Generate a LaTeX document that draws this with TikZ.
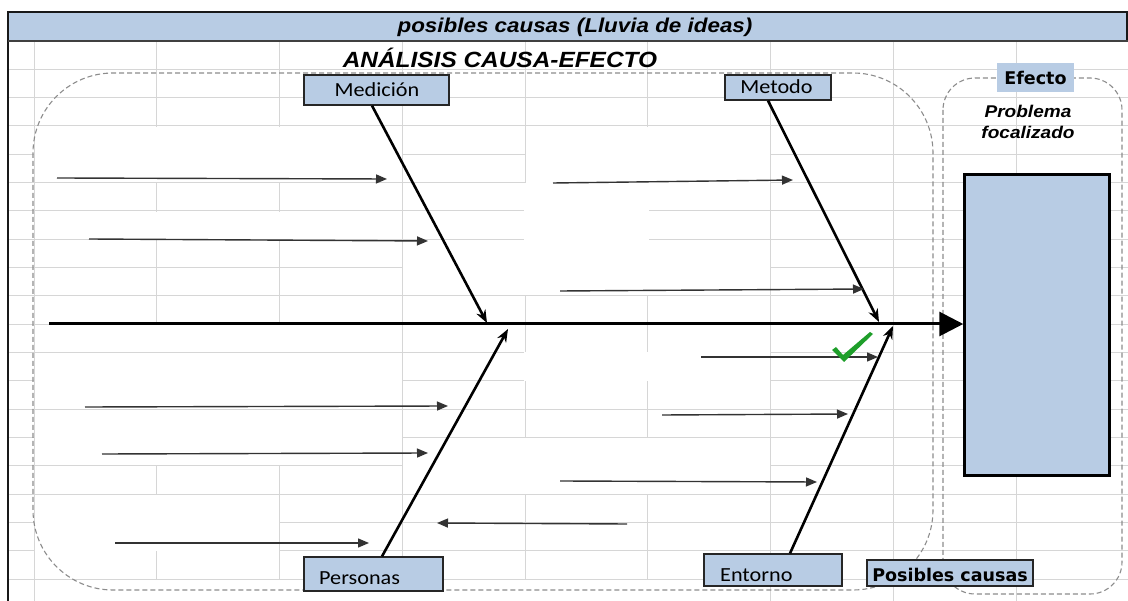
\documentclass[tikz,border=0pt]{standalone}
\usepackage{fontspec}
\setmainfont{Liberation Sans}
\newfontfamily\calf{Carlito}
\newfontfamily\dvsf{DejaVu Sans}
\usetikzlibrary{arrows.meta}
\definecolor{lblue}{HTML}{B8CCE4}
\definecolor{gridc}{HTML}{D6D6D6}
\definecolor{dashc}{HTML}{8C8C8C}
\definecolor{chk}{HTML}{1E9E2A}
\newcommand{\sx}[2]{\scalebox{#1}[1]{#2}}
\begin{document}
\begin{tikzpicture}[x=1pt,y=-1pt,
  gridl/.style={gridc,line width=1pt},
  wpatch/.style={fill=white,draw=none},
  dashbox/.style={dashc,dash pattern=on 5pt off 3pt,line width=1.1pt},
  lbox/.style={draw=black!85,line width=1.3pt,fill=lblue,inner sep=0pt},
  ltext/.style={font=\calf\fontsize{20}{24}\selectfont,inner sep=0pt,anchor=base},
  btext/.style={font=\dvsf\bfseries\fontsize{17.5}{21}\selectfont,inner sep=0pt,anchor=base},
  bitext/.style={font=\bfseries\itshape\fontsize{17}{21}\selectfont,inner sep=0pt,anchor=base},
  bone/.style={line width=2.6pt,-{Stealth[length=13pt,width=10pt]}},
  cause/.style={line width=1.4pt,draw=black!80,-{Triangle[length=11pt,width=9pt]}}]
\useasboundingbox (0,0) rectangle (1128,601);
% grid
\foreach \k in {1,...,19} \draw[gridl] (8,41+28.33*\k) -- (1128,41+28.33*\k);
\foreach \j in {0,...,8} \draw[gridl] (34+122.75*\j,41) -- (34+122.75*\j,601);
% merged cells
\fill[wpatch] (34.8,126.8) rectangle (401.7,182.2);
\fill[wpatch] (34.8,211.8) rectangle (401.7,238.8);
\fill[wpatch] (525.8,126.8) rectangle (769.8,210.4);
\fill[wpatch] (524,183.2) rectangle (648.6,240);
\fill[wpatch] (403,240) rectangle (769.8,295.4);
\fill[wpatch] (524,352.2) rectangle (769.8,381.5);
\fill[wpatch] (34.8,324.8) rectangle (401.7,352.2);
\fill[wpatch] (34.8,353.2) rectangle (401.7,408.8);
\fill[wpatch] (34.8,409.8) rectangle (401.7,465.5);
\fill[wpatch] (403,438.2) rectangle (769.8,493.8);
\fill[wpatch] (34.8,494.8) rectangle (278.8,550.5);
\fill[wpatch] (34.8,579.8) rectangle (769.8,601);
% title band
\fill[lblue] (8,12) rectangle (1128,41);
\draw[black!90,line width=1.5pt] (8,601) -- (8,12) -- (1127.2,12) -- (1127.2,41);
\draw[black!75,line width=1.8pt] (8,41) -- (1128,41);
\node[font=\bfseries\itshape\fontsize{20}{24}\selectfont,inner sep=0pt,anchor=base] (title) at (575,33) {\sx{1.12}{posibles causas (Lluvia de ideas)}};
\node[font=\bfseries\itshape\fontsize{22}{26}\selectfont,inner sep=0pt,anchor=base] (ana) at (500,68) {\sx{1.11}{ANÁLISIS CAUSA-EFECTO}};
% dashed areas
\draw[dashbox,rounded corners=80pt] (33,73) rectangle (933,590);
\draw[dashbox,rounded corners=32pt] (943,78) rectangle (1122,594);
% effect
\node[fill=lblue,minimum width=77pt,minimum height=29pt,inner sep=0pt] (efb) at (1035.5,77.5) {};
\node[btext] (eft) at (1035.5,85) {Efecto};
\node[bitext] (prob1) at (1028,118) {\sx{1.12}{Problema}};
\node[bitext] (prob2) at (1028,139) {\sx{1.12}{focalizado}};
\node[draw=black,line width=3pt,fill=lblue,minimum width=144.5pt,minimum height=301pt,inner sep=0pt] (focal) at (1037,325.5) {};
% spine
\coordinate (spL) at (49,324);
\draw[line width=3pt,-{Triangle[length=24pt,width=24pt]}] (spL) -- (spL -| focal.west);
% label boxes
\node[lbox,minimum width=145pt,minimum height=30pt] (med) at (376.5,90) {};
\node[ltext] (medt) at (377,97) {\sx{1.11}{Medición}};
\node[lbox,minimum width=106pt,minimum height=25pt] (met) at (778,87.5) {};
\node[ltext] (mett) at (776.5,94) {\sx{1.11}{Metodo}};
\node[lbox,minimum width=139pt,minimum height=34pt] (per) at (373.5,574) {};
\node[ltext,anchor=base west] (pert) at (319,584) {\sx{1.11}{Personas}};
\node[lbox,minimum width=138pt,minimum height=32pt] (ent) at (773,570) {};
\node[ltext,anchor=base west] (entt) at (720,581) {\sx{1.11}{Entorno}};
% bones
\coordinate (medtip) at (487,323);
\coordinate (mettip) at (879,322);
\coordinate (pertip) at (508,329);
\coordinate (enttip) at (893,326);
\draw[bone] ([xshift=-4.5pt]med.south) -- (medtip);
\draw[bone] ([xshift=-10pt]met.south) -- (mettip);
\draw[bone] ([xshift=8.5pt]per.north) -- (pertip);
\draw[bone] ([xshift=17pt]ent.north) -- (enttip);
% causes
\foreach \i/\xa/\ya/\xb/\yb in {1/57/178/387/179, 2/89/239/428/241, 3/553/183/793/180, 4/560/291/864/289, 5/701/357/878/357, 6/85/407/448/406, 7/662/415/848/414, 8/102/454/428/453, 9/560/481/817/482, 10/627/524/437/523, 11/115/543/369/543}{
  \coordinate (c\i s) at (\xa,\ya);
  \coordinate (c\i e) at (\xb,\yb);
  \draw[cause] (c\i s) -- (c\i e);
}
% check mark
\fill[chk] (832,350) -- (836,347) -- (843,355) -- (870,332) -- (873,334) -- (844,362) -- cycle;
% posibles causas
\node[lbox,minimum width=166pt,minimum height=26pt] (pc) at (950,573) {};
\node[btext] (pct) at (950,581) {Posibles causas};
\end{tikzpicture}
\end{document}
